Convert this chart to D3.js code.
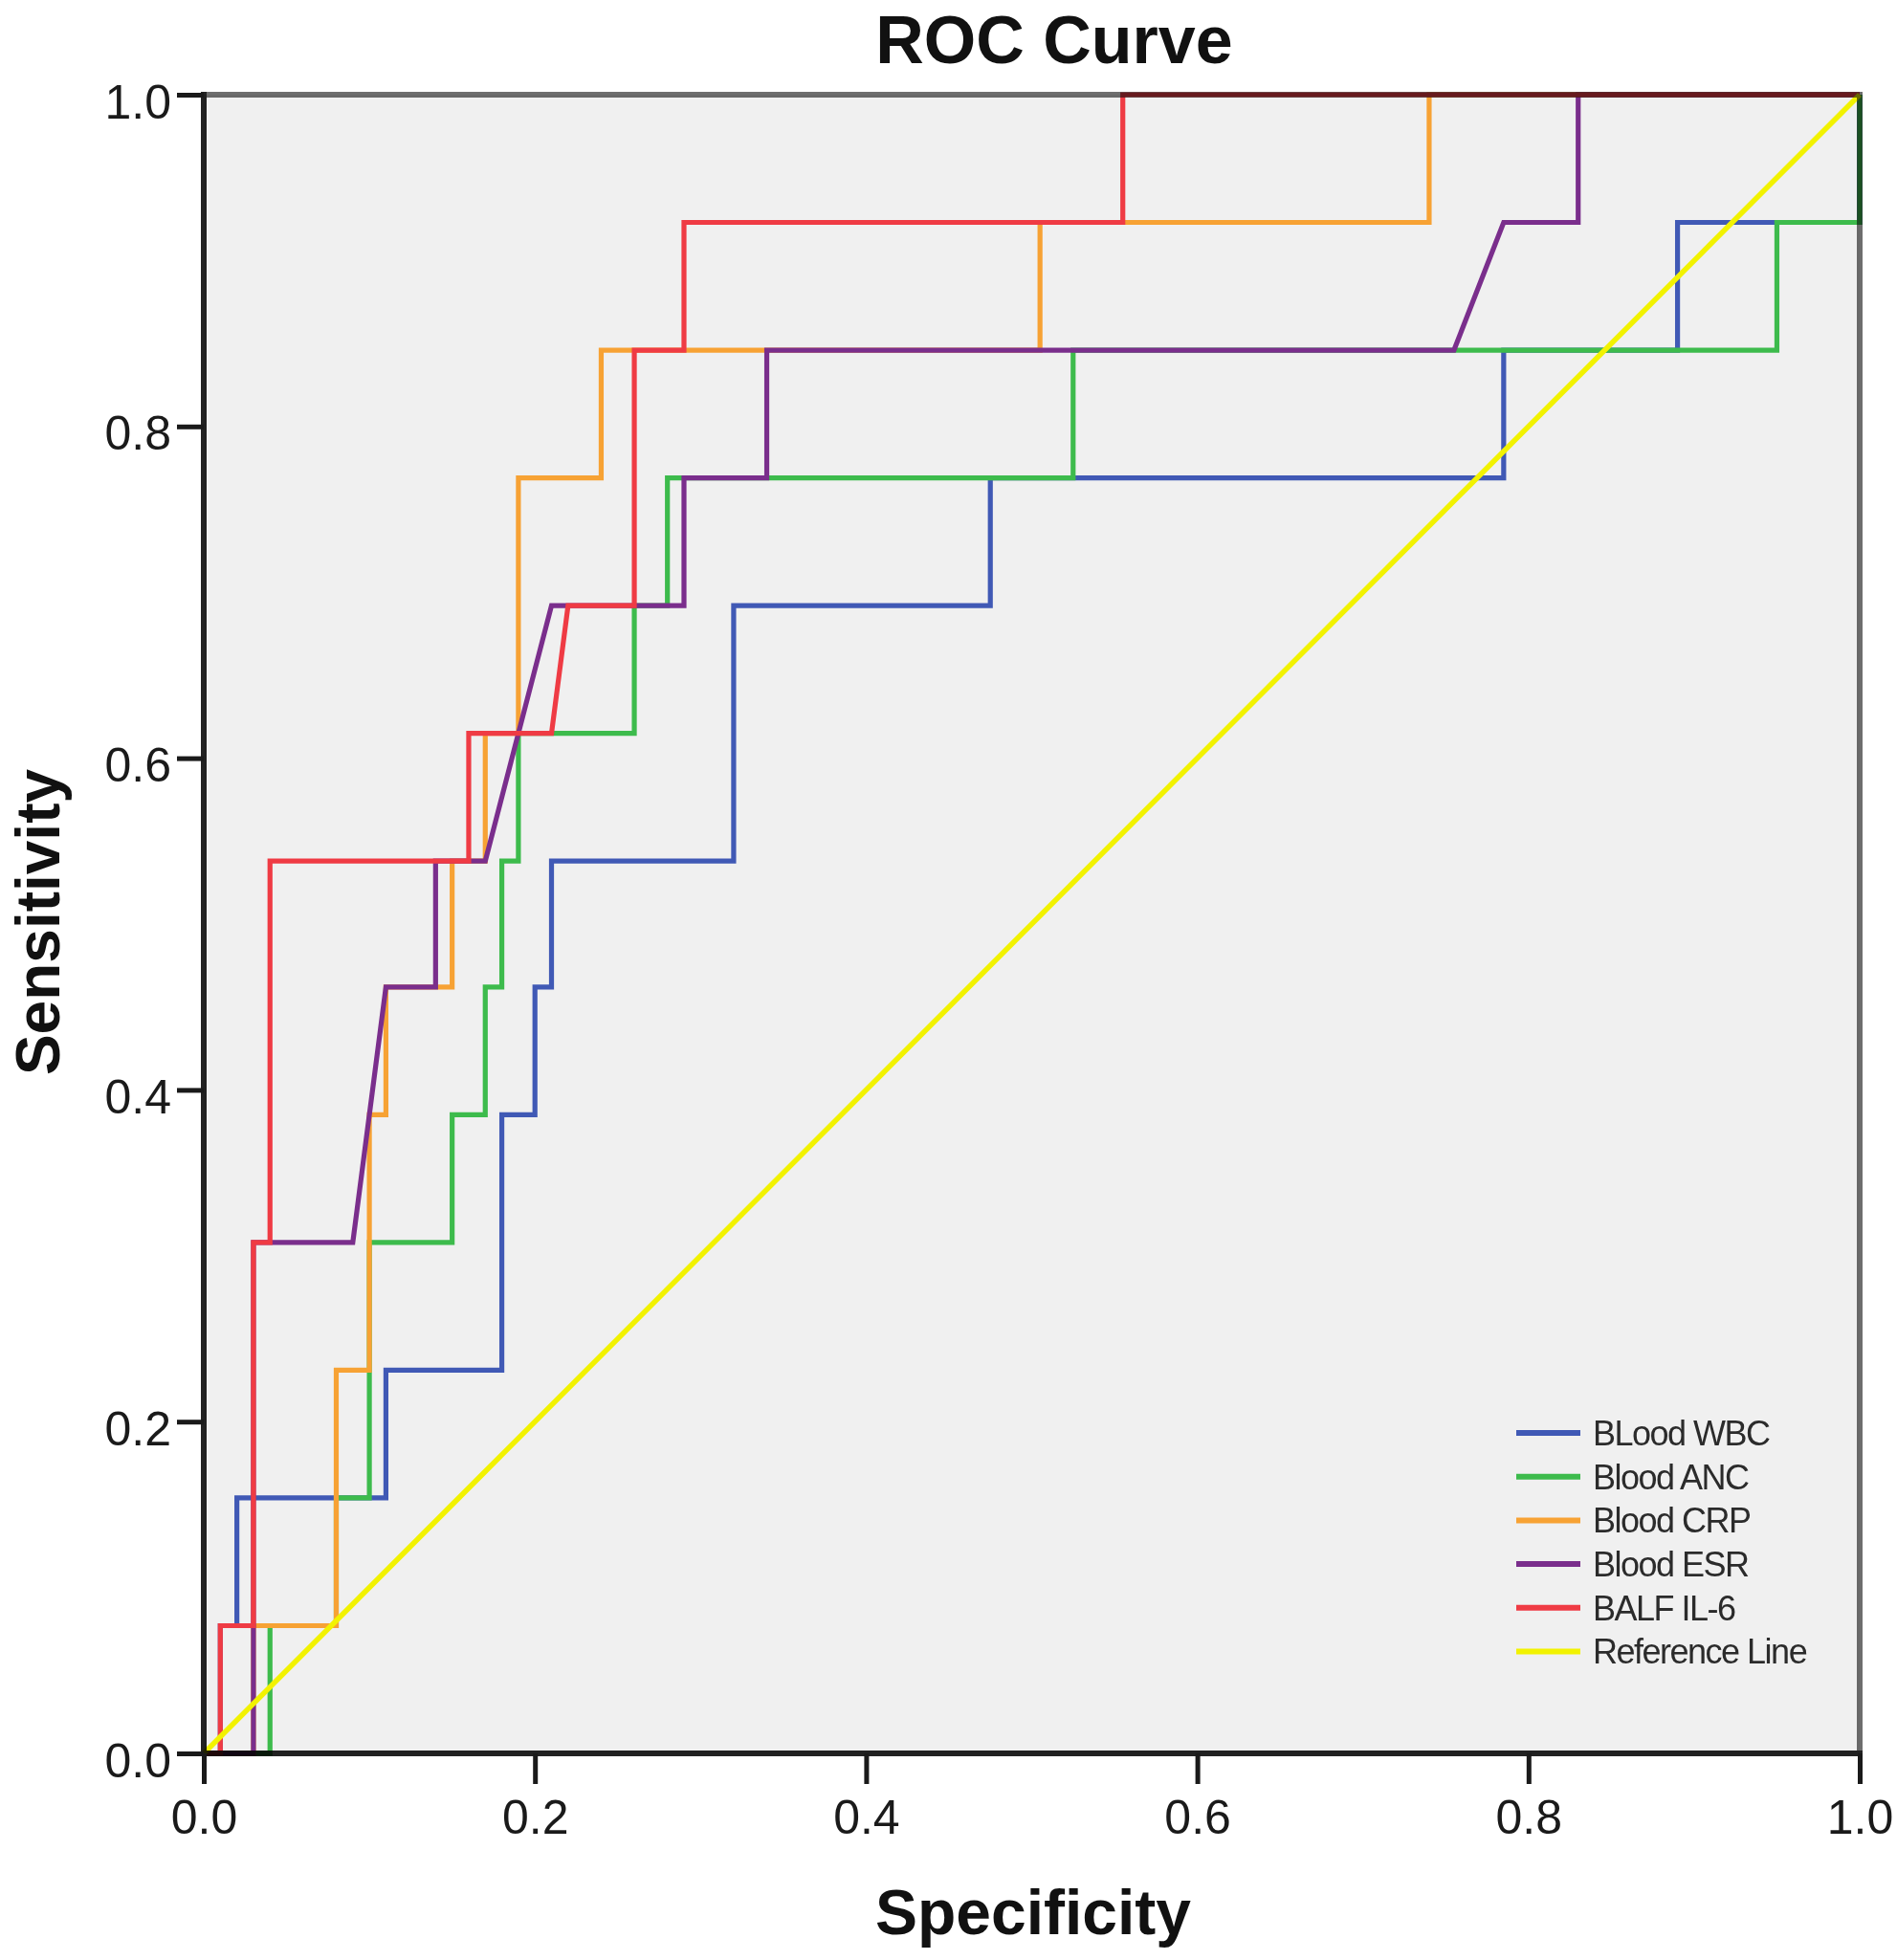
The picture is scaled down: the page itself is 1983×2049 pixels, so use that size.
<!DOCTYPE html>
<html>
<head>
<meta charset="utf-8">
<script src="https://cdn.jsdelivr.net/npm/d3@7"></script>
<style>
  body { margin: 0; background: #fff; }
  text { font-family: "Liberation Sans", Arial, sans-serif; }
</style>
</head>
<body>
<div id="roc"></div>
<script>
// ROC points: [1 - specificity, sensitivity]
var bloodWBC = [[0, 0], [0.01, 0], [0.01, 0.077], [0.02, 0.077], [0.02, 0.154], [0.11, 0.154], [0.11, 0.231],
  [0.18, 0.231], [0.18, 0.385], [0.2, 0.385], [0.2, 0.462], [0.21, 0.462], [0.21, 0.538], [0.32, 0.538],
  [0.32, 0.692], [0.475, 0.692], [0.475, 0.769], [0.785, 0.769], [0.785, 0.846], [0.89, 0.846],
  [0.89, 0.923], [1, 0.923], [1, 1]]
var bloodANC = [[0, 0], [0.04, 0], [0.04, 0.077], [0.08, 0.077], [0.08, 0.154], [0.1, 0.154], [0.1, 0.308],
  [0.15, 0.308], [0.15, 0.385], [0.17, 0.385], [0.17, 0.462], [0.18, 0.462], [0.18, 0.538], [0.19, 0.538],
  [0.19, 0.615], [0.26, 0.615], [0.26, 0.692], [0.28, 0.692], [0.28, 0.769], [0.525, 0.769],
  [0.525, 0.846], [0.95, 0.846], [0.95, 0.923], [1, 0.923], [1, 1]]
var bloodCRP = [[0, 0], [0.03, 0], [0.03, 0.077], [0.08, 0.077], [0.08, 0.231], [0.1, 0.231], [0.1, 0.385],
  [0.11, 0.385], [0.11, 0.462], [0.15, 0.462], [0.15, 0.538], [0.17, 0.538], [0.17, 0.615], [0.19, 0.615],
  [0.19, 0.769], [0.24, 0.769], [0.24, 0.846], [0.505, 0.846], [0.505, 0.923], [0.74, 0.923], [0.74, 1], [1, 1]]
var bloodESR = [[0, 0], [0.03, 0], [0.03, 0.308], [0.09, 0.308], [0.11, 0.462], [0.14, 0.462], [0.14, 0.538],
  [0.17, 0.538], [0.21, 0.692], [0.29, 0.692], [0.29, 0.769], [0.34, 0.769], [0.34, 0.846], [0.755, 0.846],
  [0.785, 0.923], [0.83, 0.923], [0.83, 1], [1, 1]]
var balfIL6 = [[0, 0], [0.01, 0], [0.01, 0.077], [0.03, 0.077], [0.03, 0.308], [0.04, 0.308], [0.04, 0.538],
  [0.16, 0.538], [0.16, 0.615], [0.21, 0.615], [0.22, 0.692], [0.26, 0.692], [0.26, 0.846], [0.29, 0.846],
  [0.29, 0.923], [0.555, 0.923], [0.555, 1], [1, 1]]
var referenceLine = [[0, 0], [1, 1]]

var seriesNames = ['BLood WBC', 'Blood ANC', 'Blood CRP', 'Blood ESR', 'BALF IL-6', 'Reference Line']
var seriesData = [bloodWBC, bloodANC, bloodCRP, bloodESR, balfIL6, referenceLine]
var seriesColors = ['#4059b5', '#3dbb4c', '#f7a234', '#7a2e8c', '#ef3b44', '#f2f200']
var tickValues = [0, 0.2, 0.4, 0.6, 0.8, 1.0]

// size of the page and the plot box
var width = 1983
var height = 2049
var margin = { top: 99, right: 39, bottom: 216, left: 213 }
var plotW = width - margin.left - margin.right
var plotH = height - margin.top - margin.bottom

var svg = d3.select('#roc').append('svg')
  .attr('width', width)
  .attr('height', height)

var g = svg.append('g')
  .attr('transform', 'translate(' + margin.left + ',' + margin.top + ')')

var x = d3.scaleLinear().domain([0, 1]).range([0, plotW])
var y = d3.scaleLinear().domain([0, 1]).range([plotH, 0])

// grey plot background
g.append('rect')
  .attr('width', plotW)
  .attr('height', plotH)
  .attr('fill', '#f0f0f0')

var line = d3.line()
  .x(function (d) { return x(d[0]) })
  .y(function (d) { return y(d[1]) })

g.selectAll('.curve')
  .data(seriesData)
  .enter().append('path')
  .attr('class', 'curve')
  .attr('d', line)
  .attr('fill', 'none')
  .attr('stroke', function (d, i) { return seriesColors[i] })
  .attr('stroke-width', function (d, i) { return i === 5 ? 5.5 : 5.2 })
  .attr('stroke-linejoin', 'miter')

// frame: top/right grey, left/bottom black, multiplied over the curves
var frame = g.append('g').style('mix-blend-mode', 'multiply')
frame.append('line').attr('x1', -3).attr('x2', plotW + 3).attr('y1', 0).attr('y2', 0)
  .attr('stroke', '#6e6e6e').attr('stroke-width', 6)
frame.append('line').attr('x1', plotW).attr('x2', plotW).attr('y1', 0).attr('y2', plotH)
  .attr('stroke', '#6e6e6e').attr('stroke-width', 6)
frame.append('line').attr('x1', 0).attr('x2', 0).attr('y1', -3).attr('y2', plotH + 3)
  .attr('stroke', '#222').attr('stroke-width', 6)
frame.append('line').attr('x1', -3).attr('x2', plotW + 3).attr('y1', plotH).attr('y2', plotH)
  .attr('stroke', '#222').attr('stroke-width', 6)

// axes
var yAxis = g.append('g')
  .call(d3.axisLeft(y).tickValues(tickValues).tickFormat(d3.format('.1f')).tickSize(28).tickPadding(6))
var xAxis = g.append('g')
  .attr('transform', 'translate(0,' + plotH + ')')
  .call(d3.axisBottom(x).tickValues(tickValues).tickFormat(d3.format('.1f')).tickSize(32).tickPadding(16))

;[yAxis, xAxis].forEach(function (ax) {
  ax.select('.domain').remove()
  ax.selectAll('.tick line').attr('stroke', '#1a1a1a').attr('stroke-width', 5)
  ax.selectAll('.tick text')
    .attr('fill', '#1a1a1a')
    .style('font-size', '50px')
    .style('font-family', '"Liberation Sans", Arial, sans-serif')
})
yAxis.selectAll('.tick text').attr('dy', '0.48em')
xAxis.selectAll('.tick text').attr('dy', '0.71em')

// legend
var legend = g.append('g')
  .attr('transform', 'translate(' + (1585 - margin.left) + ',' + (1498 - margin.top) + ')')
var rows = legend.selectAll('g')
  .data(seriesNames)
  .enter().append('g')
  .attr('transform', function (d, i) { return 'translate(0,' + (i * 45.7) + ')' })
rows.append('line')
  .attr('x1', 0).attr('x2', 67)
  .attr('stroke', function (d, i) { return seriesColors[i] })
  .attr('stroke-width', 6)
rows.append('text')
  .attr('x', 80)
  .attr('dy', '0.36em')
  .attr('fill', '#2b2b2b')
  .style('font-size', '36px')
  .style('letter-spacing', '-1.5px')
  .text(function (d) { return d })

// titles
svg.append('text')
  .attr('x', 1102).attr('y', 66)
  .attr('text-anchor', 'middle')
  .style('font-size', '70px').style('font-weight', 'bold')
  .attr('fill', '#111')
  .text('ROC Curve')

svg.append('text')
  .attr('x', 1080).attr('y', 2022)
  .attr('text-anchor', 'middle')
  .style('font-size', '66px').style('font-weight', 'bold')
  .attr('fill', '#111')
  .text('Specificity')

svg.append('text')
  .attr('transform', 'translate(62,964) rotate(-90)')
  .attr('text-anchor', 'middle')
  .style('font-size', '64px').style('font-weight', 'bold')
  .attr('fill', '#111')
  .text('Sensitivity')
</script>
</body>
</html>
